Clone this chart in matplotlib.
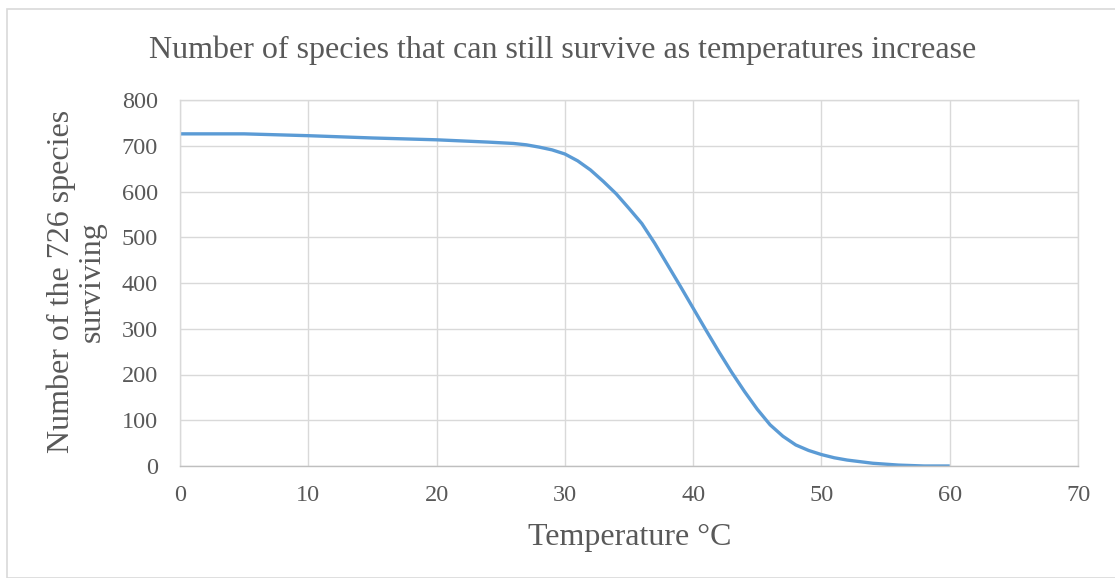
import matplotlib
matplotlib.use("Agg")
import matplotlib.pyplot as plt
from matplotlib.patches import Rectangle

# temperature (deg C) and species still surviving
temps = [0, 5, 10, 15, 20, 24, 26, 27, 28, 29, 30, 31, 32, 33, 34, 35, 36, 37, 38, 39,
         40, 41, 42, 43, 44, 45, 46, 47, 48, 49, 50, 51, 52, 54, 56, 58, 60]
surviving = [726, 726, 722, 717, 713, 708, 705, 702, 697, 691, 682, 667, 647, 622, 595, 563, 530, 487, 440, 393,
             345, 297, 250, 205, 163, 124, 90, 65, 46, 34, 25, 18, 13, 6, 2, 0, 0]

xticks = [0, 10, 20, 30, 40, 50, 60, 70]
yticks = [0, 100, 200, 300, 400, 500, 600, 700, 800]

plt.rcParams['font.family'] = ['Liberation Serif', 'DejaVu Serif']
txt = '#595959'
grid = '#D9D9D9'

fig = plt.figure(figsize=(11.15, 5.78), dpi=100)
fig.patches.append(Rectangle((7/1115, 0), 1.0, 1 - 9/578, transform=fig.transFigure,
                             fill=False, edgecolor=grid, linewidth=1.2))

ax = fig.add_axes([180/1115, 1 - 466/578, 898/1115, 366/578])
ax.plot(temps, surviving, color='#5B9BD5', linewidth=2.4,
        solid_capstyle='butt', solid_joinstyle='round')

ax.set_xlim(0, 70)
ax.set_ylim(0, 800)
ax.set_xticks(xticks)
ax.set_yticks(yticks)
ax.grid(True, color=grid, linewidth=1.0)
ax.set_axisbelow(True)
for s in ax.spines.values():
    s.set_color(grid)
    s.set_linewidth(1.0)
ax.spines['bottom'].set_color('#BFBFBF')
ax.tick_params(length=0, labelsize=17.5, labelcolor=txt)
ax.tick_params(axis='y', pad=16)
ax.tick_params(axis='x', pad=14)

ax.set_xlabel('Temperature °C', fontsize=23, color=txt)
ax.xaxis.set_label_coords(0.501, -0.155)
ax.set_ylabel('Number of the 726 species\nsurviving', fontsize=23, color=txt,
              linespacing=1.1)
ax.yaxis.set_label_coords(-0.0813, 0.503)

fig.text(563/1115, 1 - 50/578, 'Number of species that can still survive as temperatures increase',
         ha='center', va='center', fontsize=23, color=txt)

fig.savefig('out.png', dpi=100)
